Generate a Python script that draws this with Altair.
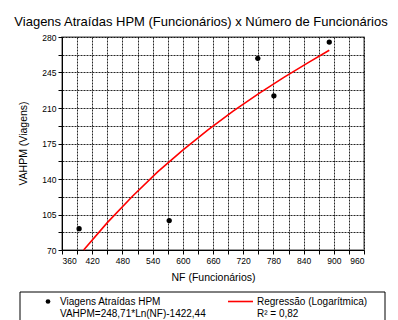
import altair as alt
import pandas as pd

# Observed points
nf = [394, 573, 749, 781, 891]
vahpm = [91, 99, 259, 222, 275]

# Regression curve
curve_nf = [403, 450, 500, 550, 600, 650, 700, 750, 800, 850, 891]
curve_v = [70, 97, 123, 147, 168.5, 188.5, 207, 224, 240, 255, 267]

x_ticks = list(range(360, 961, 30))
y_ticks = [70 + 17.5 * k for k in range(13)]

title_text = "Viagens Atraídas HPM (Funcionários) x Número de Funcionários"
leg_point = ["Viagens Atraídas HPM", "VAHPM=248,71*Ln(NF)-1422,44"]
leg_line = ["Regressão (Logarítmica)", "R² = 0,82"]

FONT = "Liberation Sans"

pts = pd.DataFrame({"NF": nf, "VAHPM": vahpm})
crv = pd.DataFrame({"NF": curve_nf, "VAHPM": curve_v})

xscale = alt.Scale(domain=[360, 960], nice=False, zero=False)
yscale = alt.Scale(domain=[70, 280], nice=False, zero=False)

xaxis = alt.Axis(
    values=x_ticks,
    tickCount=40,
    labelExpr="datum.value % 60 == 0 ? datum.label : ''",
    labelOverlap=False,
    title="NF (Funcionários)",
    titleX=151, titleY=27, titleBaseline="middle", titleAlign="center",
    titleFont=FONT, titleFontSize=10.5, titleFontWeight="normal", titleColor="#000",
    labelFont=FONT, labelFontSize=8.5, labelColor="#000", labelPadding=2,
    tickSize=4, tickColor="#000", domainColor="#000",
    grid=True, gridColor="#000", gridDash=[2, 1], gridOpacity=0.85,
)
yaxis = alt.Axis(
    values=y_ticks,
    tickCount=40,
    labelExpr="(datum.value - 70) % 35 == 0 ? datum.label : ''",
    labelOverlap=False,
    title="VAHPM (Viagens)",
    titleX=-39, titleY=106, titleAngle=-90, titleBaseline="middle", titleAlign="center",
    titleFont=FONT, titleFontSize=10.5, titleFontWeight="normal", titleColor="#000",
    labelFont=FONT, labelFontSize=8.5, labelColor="#000", labelPadding=2,
    tickSize=4, tickColor="#000", domainColor="#000",
    grid=True, gridColor="#000", gridDash=[2, 1], gridOpacity=0.85,
)

points = alt.Chart(pts).mark_circle(color="#000", opacity=1, size=28).encode(
    x=alt.X("NF:Q", scale=xscale, axis=xaxis),
    y=alt.Y("VAHPM:Q", scale=yscale, axis=yaxis),
)

line = alt.Chart(crv).mark_line(color="#ff0000", strokeWidth=1.6).encode(
    x=alt.X("NF:Q", scale=xscale),
    y=alt.Y("VAHPM:Q", scale=yscale),
)

one = alt.Data(values=[{}])

title = alt.Chart(one).mark_text(
    font=FONT, fontSize=13, align="center", baseline="alphabetic", color="#000"
).encode(x=alt.value(139), y=alt.value(-11), text=alt.value(title_text))

box = alt.Chart(one).mark_rect(fill="white", stroke="#000", strokeWidth=1).encode(
    x=alt.value(-42), x2=alt.value(323), y=alt.value(255), y2=alt.value(300)
)
bullet = alt.Chart(one).mark_circle(color="#000", opacity=1, size=22).encode(
    x=alt.value(-14), y=alt.value(264.5)
)
redline = alt.Chart(one).mark_rule(color="#ff0000", strokeWidth=1.6).encode(
    x=alt.value(166), x2=alt.value(191), y=alt.value(264.5)
)

def txt(s, x, y):
    return alt.Chart(one).mark_text(
        font=FONT, fontSize=10, align="left", baseline="middle", color="#000"
    ).encode(x=alt.value(x), y=alt.value(y), text=alt.value(s))

legend_texts = [
    txt(leg_point[0], -2, 264.5),
    txt(leg_point[1], -2, 276.5),
    txt(leg_line[0], 195, 264.5),
    txt(leg_line[1], 195, 276.5),
]

chart = alt.layer(points, line, title, box, bullet, redline, *legend_texts).properties(
    width=302, height=213,
    autosize=alt.AutoSizeParams(type="none"),
    padding={"left": 54, "top": 29, "right": 26, "bottom": 70},
).configure_view(stroke="#808080", strokeWidth=1.5)

chart.save("out.html", embed_options={"renderer": "svg", "actions": False})
